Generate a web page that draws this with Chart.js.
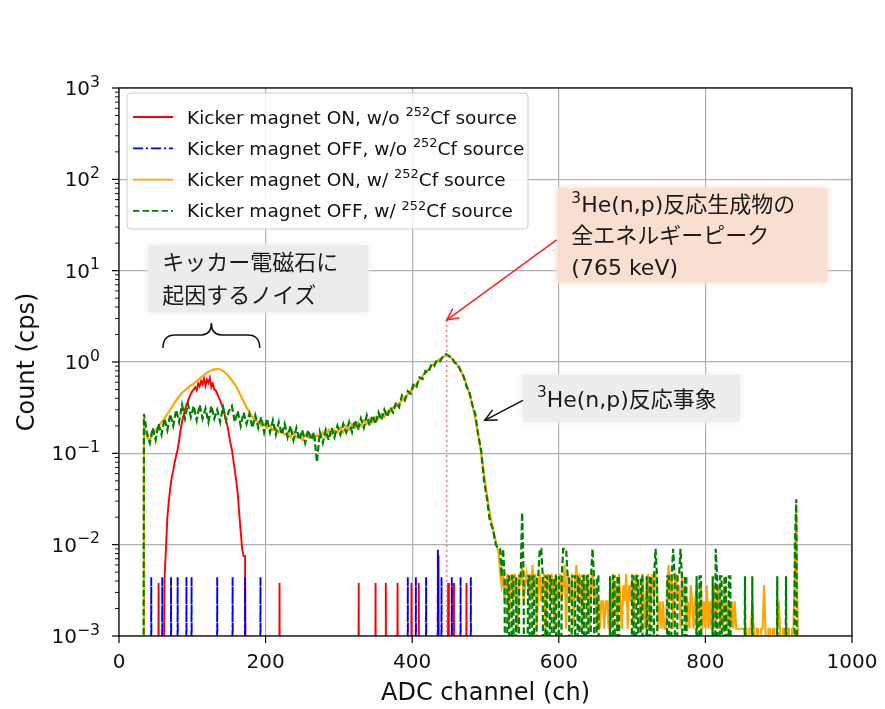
<!DOCTYPE html>
<html>
<head>
<meta charset="utf-8">
<title>ADC spectrum</title>
<script src="https://cdn.jsdelivr.net/npm/chart.js@4.4.1/dist/chart.umd.min.js"></script>
<style>
  html, body { margin: 0; padding: 0; background: #fff; }
  #wrap { width: 885px; height: 709px; position: relative; }
</style>
</head>
<body>
<div id="wrap"><canvas id="spectrum"></canvas></div>
<script>
// ---- spectra (cps), main region on a 4-channel grid ----
const threshold = 33;          // first channel above the ADC threshold
const spectrumStart = 34;
const spectrumStep = 4;

// kicker OFF, with 252Cf
const offWithCf = [
  0.27, 0.17, 0.13, 0.19, 0.14, 0.21, 0.16, 0.24, 0.18, 0.27,
  0.2, 0.3, 0.22, 0.34, 0.24, 0.35, 0.25, 0.33, 0.23, 0.34,
  0.24, 0.31, 0.22, 0.33, 0.24, 0.3, 0.22, 0.32, 0.23, 0.29,
  0.33, 0.22, 0.29, 0.2, 0.28, 0.21, 0.27, 0.19, 0.26, 0.19,
  0.25, 0.17, 0.24, 0.17, 0.23, 0.16, 0.22, 0.16, 0.21, 0.15,
  0.2, 0.14, 0.19, 0.14, 0.18, 0.13, 0.18, 0.14, 0.17, 0.08,
  0.17, 0.13, 0.18, 0.14, 0.19, 0.15, 0.2, 0.16, 0.21, 0.17,
  0.22, 0.17, 0.23, 0.18, 0.24, 0.19, 0.26, 0.2, 0.26, 0.21,
  0.28, 0.23, 0.3, 0.25, 0.32, 0.28, 0.36, 0.32, 0.43, 0.38,
  0.48, 0.45, 0.58, 0.54, 0.68, 0.65, 0.8, 0.76, 0.93, 0.9,
  1.06, 1.02, 1.15, 1.22, 1.16, 1.12, 0.98, 0.95, 0.8, 0.7,
  0.54, 0.47, 0.34, 0.27, 0.16, 0.11, 0.05, 0.032, 0.018, 0.015,
  0.01, 0.009
];

// kicker ON, with 252Cf
const onWithCf = [
  0.2, 0.15, 0.14, 0.16, 0.18, 0.2, 0.22, 0.24, 0.27, 0.3,
  0.34, 0.38, 0.42, 0.46, 0.49, 0.52, 0.55, 0.58, 0.62, 0.66,
  0.7, 0.74, 0.78, 0.81, 0.83, 0.84, 0.83, 0.8, 0.75, 0.69,
  0.63, 0.57, 0.5, 0.43, 0.37, 0.32, 0.28, 0.25, 0.23, 0.22,
  0.2, 0.21, 0.19, 0.2, 0.18, 0.19, 0.17, 0.18, 0.16, 0.17,
  0.15, 0.17, 0.15, 0.16, 0.14, 0.16, 0.15, 0.16, 0.14, 0.16,
  0.15, 0.17, 0.15, 0.18, 0.16, 0.18, 0.17, 0.19, 0.17, 0.2,
  0.18, 0.21, 0.19, 0.22, 0.2, 0.23, 0.21, 0.24, 0.22, 0.25,
  0.24, 0.27, 0.25, 0.29, 0.28, 0.32, 0.33, 0.35, 0.38, 0.41,
  0.44, 0.48, 0.53, 0.58, 0.64, 0.7, 0.76, 0.83, 0.9, 0.96,
  1.03, 1.09, 1.14, 1.18, 1.17, 1.1, 1.01, 0.92, 0.82, 0.7,
  0.57, 0.45, 0.34, 0.24, 0.16, 0.1, 0.06, 0.035, 0.022, 0.015,
  0.011, 0.008
];

// kicker ON, no source: noise bump on a 2-channel grid
const noiseStart = 60;
const noiseStep = 2;
const onNoSource = [
  0, 0.004, 0.009, 0.02, 0.03, 0.042, 0.055, 0.065, 0.08, 0.095,
  0.11, 0.14, 0.18, 0.22, 0.26, 0.3, 0.34, 0.37, 0.41, 0.45,
  0.48, 0.5, 0.53, 0.49, 0.58, 0.54, 0.62, 0.57, 0.66, 0.55,
  0.64, 0.59, 0.67, 0.53, 0.58, 0.5, 0.49, 0.45, 0.41, 0.38,
  0.34, 0.31, 0.27, 0.23, 0.2, 0.16, 0.13, 0.11, 0.085, 0.065,
  0.05, 0.036, 0.022, 0.014, 0.009, 0.0075, 0.0075, 0
];

// ---- high-channel tail: counts per 2-channel bin ----
const tailStart = 520;
const tailStep = 2;
const offWithCfRate = 0.0045;   // cps per count
const onWithCfRate = 0.0012;

const offWithCfTail = [
  2,1,2,1,0,1,1,0,1,1,0,1,0,1,1,5,1, 0,0,
  1,1,0,1,1,0,1,1,2,2,1,0,1,1,0,1,1,0,1,1,0,
  1,0,1,2,2,2,1,1,0,1,1,1,0,1,1,0,1,1,0,1,1,0,1,2,1,0,1,1,0,
  0,0,0,0,0,0, 1,0,1,1,0,1,1, 0,0,0,0,0,0,0,0,
  1,1,0,1,1,0,1,1, 0,0, 1,0,1,1,0,1,2,1, 0,0,0,0,0,0,
  1,1,0,1,2,1,0,1,1,2,1,0,1,1, 0,0,0,0,0,0, 1,0,1,1, 0,0,0,0,0,0,0,
  1,0,2,1,0,1,1,0,1,1,0,1,1,0, 0,0,0,0,0,0,0,0, 1, 0,0,0,0, 1,
  0,0,0,0,0,0,0,0,0,0,0,0,0,0,0,0, 1, 0,0,0,0,0, 1, 0,0,0,0,0,
  2,7,0,0,0
];

const onWithCfTail = [
  4,3,4,2,3,4,1,3,4,2,4,3,1,4,3,5,2,3,4,
  3,4,2,5,3,4,1,3,4,2,3,4,1,3,4,2,4,3,1,4,2,
  3,4,2,3,5,1,4,3,2,4,1,3,5,2,4,3,1,4,2,3,4,1,3,4,2,3,1,2,1,
  2,2,1,2,2,1, 3,1,4,2,3,1,4, 2,1,3,2,4,1,3,2,
  4,1,3,4,2,3,1,4, 2,1, 3,4,1,3,4,2,4,3, 1,2,1,2,1,1,
  3,5,2,4,1,3,4,2,3,1,4,2,3,1, 2,1,3,2,1,2, 3,1,2,3, 1,2,1,3,1,2,1,
  2,3,1,2,3,1,2,1,3,2,1,2,1,2, 1,2,1,1,1,1,1,1, 1, 1,0,1,1, 2,
  1,0,1,1,0,1,1,3,1,0,1,1,0,1,1,0, 1, 2,1,0,1,1, 0, 1,1,0,1,1,
  4,20,1,0,0
];

// ---- isolated counts without the source ----
const onNoSourceRate = 0.0038;
const onNoSourceHits = [54, 219, 327, 350, 364, 380, 399, 409, 436, 449, 456, 474];
const onNoSourceHitCounts = [1, 1, 1, 1, 1, 1, 1, 1, 2, 1, 1, 1];

const offNoSourceRate = 0.0044;
const offNoSourceHits = [44, 59, 71, 80, 92, 99, 134, 155, 172, 193, 394, 405, 419, 435, 440, 454, 466, 480];
const offNoSourceHitCounts = [1, 1, 1, 1, 1, 1, 1, 1, 1, 1, 1, 1, 1, 2, 1, 1, 1, 1];

// empty channels sit far below the axis so the line drops off the bottom
const zeroFloor = 1e-6;

// ---- axes ----
const xTicks = [0, 200, 400, 600, 800, 1000];
const yDecades = [-3, -2, -1, 0, 1, 2, 3];

const seriesLabels = [
  ['Kicker magnet ON, w/o ', '252', 'Cf source'],
  ['Kicker magnet OFF, w/o ', '252', 'Cf source'],
  ['Kicker magnet ON, w/ ', '252', 'Cf source'],
  ['Kicker magnet OFF, w/ ', '252', 'Cf source']
];
const seriesColors = ['#ff0000', '#0000ff', '#ffa500', '#008000'];
const seriesDash = [[], [10, 3, 2, 3], [], [6.5, 3]];

// annotation anchors (channel, cps)
const peakChannel = 447;
const peakArrowTip = 2.88;
const peakArrowFrom = [597, 21.7];
const eventArrowTip = [499, 0.23];
const eventArrowFrom = [551, 0.38];
const brace = { from: 60, to: 192, low: 1.42, mid: 1.98, top: 2.67 };
const noiseBox = { at: [40, 19], w: 220, h: 67, color: '#ececec',
  lines: [[['キッカー電磁石に']], [['起因するノイズ']]] };
const peakBox = { at: [598, 80], w: 270, h: 94, color: '#f9dfcf',
  lines: [[['3', true], ['He(n,p)反応生成物の']], [['全エネルギーピーク']], [['(765 keV)']]] };
const eventBox = { at: [551, 0.72], w: 217, h: 47, color: '#ededed',
  lines: [[['3', true], ['He(n,p)反応事象']]] };

// ---- build point lists ----
const lift = v => (v > 0 ? v : zeroFloor);

function gridPoints(start, step, values) {
  return values.map((v, i) => ({ x: start + step * i, y: lift(v) }));
}

function countPoints(start, step, counts, rate) {
  const pts = counts.map((c, i) => ({ x: start + step * i, y: c * rate }));
  // runs of empty bins: keep only the edges so each burst drops to the axis
  return pts.map((p, i) => {
    const prev = pts[i - 1], next = pts[i + 1];
    if (p.y === 0 && (!prev || prev.y === 0) && (!next || next.y === 0)) {
      return { x: p.x, y: null };
    }
    return { x: p.x, y: lift(p.y) };
  });
}

function hitPoints(chs, counts, rate) {
  const pts = [];
  chs.forEach((c, i) => {
    pts.push({ x: c - 1, y: zeroFloor }, { x: c, y: counts[i] * rate },
      { x: c + 1, y: zeroFloor }, { x: c + 1, y: null });
  });
  return pts;
}

const redPts = [
  ...hitPoints(onNoSourceHits.slice(0, 1), onNoSourceHitCounts.slice(0, 1), onNoSourceRate),
  ...gridPoints(noiseStart, noiseStep, onNoSource),
  { x: 175, y: null },
  ...hitPoints(onNoSourceHits.slice(1), onNoSourceHitCounts.slice(1), onNoSourceRate)
];
const bluePts = hitPoints(offNoSourceHits, offNoSourceHitCounts, offNoSourceRate);
const orangePts = [
  { x: threshold, y: zeroFloor },
  ...gridPoints(spectrumStart, spectrumStep, onWithCf),
  ...countPoints(tailStart, tailStep, onWithCfTail, onWithCfRate)
];
const greenPts = [
  { x: threshold, y: zeroFloor },
  ...gridPoints(spectrumStart, spectrumStep, offWithCf),
  ...countPoints(tailStart, tailStep, offWithCfTail, offWithCfRate)
];

// ---- drawing helpers ----
const axisFont = '"DejaVu Sans", sans-serif';
const noteFont = '"DejaVu Sans", "Noto Sans CJK JP", sans-serif';

function richText(ctx, parts, x0, base, size, family, supScale = 0.7) {
  let cx = x0;
  for (const [t, sup] of parts) {
    ctx.font = (sup ? size * supScale : size) + 'px ' + family;
    ctx.fillText(t, cx, sup ? base - size * 0.42 : base);
    cx += ctx.measureText(t).width;
  }
  return cx - x0;
}

function richWidth(ctx, parts, size, family, supScale = 0.7) {
  let w = 0;
  for (const [t, sup] of parts) {
    ctx.font = (sup ? size * supScale : size) + 'px ' + family;
    w += ctx.measureText(t).width;
  }
  return w;
}

function seg(ctx, x0, y0, x1, y1) {
  ctx.beginPath();
  ctx.moveTo(x0, y0);
  ctx.lineTo(x1, y1);
  ctx.stroke();
}

function arrow(ctx, x0, y0, x1, y1, color) {
  ctx.strokeStyle = color;
  ctx.lineWidth = 1.5;
  seg(ctx, x0, y0, x1, y1);
  const ang = Math.atan2(y1 - y0, x1 - x0);
  const len = 13, spread = 0.45;
  ctx.beginPath();
  ctx.moveTo(x1 - len * Math.cos(ang - spread), y1 - len * Math.sin(ang - spread));
  ctx.lineTo(x1, y1);
  ctx.lineTo(x1 - len * Math.cos(ang + spread), y1 - len * Math.sin(ang + spread));
  ctx.stroke();
}

function noteBox(ctx, box, sx, sy) {
  const x0 = sx.getPixelForValue(box.at[0]);
  const y0 = sy.getPixelForValue(box.at[1]);
  ctx.save();
  ctx.fillStyle = box.color;
  ctx.shadowColor = box.color;
  ctx.shadowBlur = 8;
  ctx.fillRect(x0, y0, box.w, box.h);
  ctx.restore();
  ctx.fillStyle = '#1a1a1a';
  ctx.textAlign = 'left';
  ctx.textBaseline = 'alphabetic';
  const gap = box.h / box.lines.length;
  box.lines.forEach((parts, i) => {
    const mid = y0 + gap * (i + 0.5);
    richText(ctx, parts, x0 + 14, mid + 8, 22, noteFont);
  });
}

const decor = {
  id: 'decor',
  afterDatasetsDraw(chart) {
    const { ctx, chartArea: a, scales: { x, y } } = chart;
    ctx.save();

    // dotted marker under the full-energy peak
    const px = x.getPixelForValue(peakChannel);
    ctx.strokeStyle = '#f07878';
    ctx.lineWidth = 1.5;
    ctx.setLineDash([2, 3]);
    seg(ctx, px, y.getPixelForValue(peakArrowTip), px, a.bottom);
    ctx.setLineDash([]);

    // frame
    ctx.strokeStyle = '#000';
    ctx.lineWidth = 1.2;
    ctx.strokeRect(a.left, a.top, a.right - a.left, a.bottom - a.top);

    // x ticks and labels
    ctx.fillStyle = '#111';
    ctx.textAlign = 'center';
    ctx.textBaseline = 'alphabetic';
    ctx.font = '20px ' + axisFont;
    xTicks.forEach(v => {
      const tx = x.getPixelForValue(v);
      seg(ctx, tx, a.bottom, tx, a.bottom + 7);
      ctx.fillText(String(v), tx, a.bottom + 32);
    });

    // y ticks (major + minor) and 10^n labels
    ctx.textAlign = 'left';
    yDecades.forEach(e => {
      const base = Math.pow(10, e);
      const ty = y.getPixelForValue(base);
      ctx.lineWidth = 1.2;
      seg(ctx, a.left - 7, ty, a.left, ty);
      if (e < yDecades[yDecades.length - 1]) {
        ctx.lineWidth = 0.9;
        for (let m = 2; m <= 9; m++) {
          const my = y.getPixelForValue(m * base);
          seg(ctx, a.left - 4, my, a.left, my);
        }
      }
      const parts = [['10'], [e < 0 ? '\u2212' + (-e) : String(e), true]];
      const w = richWidth(ctx, parts, 20, axisFont, 0.78);
      richText(ctx, parts, a.left - 19 - w, ty + 7, 20, axisFont, 0.78);
    });

    // axis titles
    ctx.font = '24px ' + axisFont;
    ctx.textAlign = 'center';
    ctx.fillText('ADC channel (ch)', (a.left + a.right) / 2, a.bottom + 64);
    ctx.save();
    ctx.translate(34, (a.top + a.bottom) / 2);
    ctx.rotate(-Math.PI / 2);
    ctx.fillText('Count (cps)', 0, 0);
    ctx.restore();

    // note boxes
    noteBox(ctx, noiseBox, x, y);
    noteBox(ctx, peakBox, x, y);
    noteBox(ctx, eventBox, x, y);

    // arrows
    arrow(ctx, x.getPixelForValue(peakArrowFrom[0]), y.getPixelForValue(peakArrowFrom[1]),
      px, y.getPixelForValue(peakArrowTip), '#ff2020');
    arrow(ctx, x.getPixelForValue(eventArrowFrom[0]), y.getPixelForValue(eventArrowFrom[1]),
      x.getPixelForValue(eventArrowTip[0]), y.getPixelForValue(eventArrowTip[1]), '#111');

    // curly brace over the noise bump
    const b0 = x.getPixelForValue(brace.from), b1 = x.getPixelForValue(brace.to);
    const bc = (b0 + b1) / 2;
    const yl = y.getPixelForValue(brace.low), ym = y.getPixelForValue(brace.mid), yt = y.getPixelForValue(brace.top);
    ctx.strokeStyle = '#111';
    ctx.lineWidth = 1.5;
    ctx.beginPath();
    ctx.moveTo(b0, yl);
    ctx.quadraticCurveTo(b0, ym, b0 + 12, ym);
    ctx.lineTo(bc - 10, ym);
    ctx.quadraticCurveTo(bc, ym, bc, yt);
    ctx.quadraticCurveTo(bc, ym, bc + 10, ym);
    ctx.lineTo(b1 - 12, ym);
    ctx.quadraticCurveTo(b1, ym, b1, yl);
    ctx.stroke();

    // legend
    const lx = a.left + 8, ly = a.top + 5, lw = 401, lh = 136;
    ctx.fillStyle = 'rgba(255,255,255,0.85)';
    ctx.strokeStyle = '#cccccc';
    ctx.lineWidth = 1;
    ctx.beginPath();
    ctx.roundRect(lx, ly, lw, lh, 4);
    ctx.fill();
    ctx.stroke();
    ctx.textAlign = 'left';
    seriesLabels.forEach((lab, i) => {
      const ry = a.top + 29 + i * 31.3;
      ctx.strokeStyle = seriesColors[i];
      ctx.lineWidth = 1.8;
      ctx.setLineDash(seriesDash[i]);
      seg(ctx, a.left + 14, ry, a.left + 54, ry);
      ctx.setLineDash([]);
      ctx.fillStyle = '#111';
      richText(ctx, [[lab[0]], [lab[1], true], [lab[2]]], a.left + 68, ry + 6.5, 18.5, axisFont);
    });

    ctx.restore();
  }
};

const line = (pts, i, order, width) => ({
  data: pts,
  borderColor: seriesColors[i],
  borderDash: seriesDash[i],
  borderWidth: width,
  pointRadius: 0,
  tension: 0,
  spanGaps: false,
  order
});

new Chart(document.getElementById('spectrum'), {
  type: 'line',
  data: {
    datasets: [
      line(redPts, 0, 3, 1.9),
      line(bluePts, 1, 2, 1.9),
      line(orangePts, 2, 1, 2.1),
      line(greenPts, 3, 0, 2.2)
    ]
  },
  options: {
    responsive: true,
    maintainAspectRatio: false,
    animation: false,
    events: [],
    layout: { padding: { left: 119, right: 33, top: 88, bottom: 73 } },
    plugins: { legend: { display: false }, tooltip: { enabled: false } },
    scales: {
      x: {
        type: 'linear', min: 0, max: 1000,
        ticks: { display: false, stepSize: 200 },
        grid: { color: '#b0b0b0', lineWidth: 1.2, drawTicks: false },
        border: { display: false },
        afterFit: s => { s.height = 0; }
      },
      y: {
        type: 'logarithmic', min: 0.001, max: 1000,
        ticks: { display: false },
        grid: {
          color: c => {
            const v = c.tick ? c.tick.value : 0;
            const l = Math.log10(v);
            return Math.abs(l - Math.round(l)) < 1e-6 ? '#b0b0b0' : 'rgba(0,0,0,0)';
          },
          lineWidth: 1.2, drawTicks: false
        },
        border: { display: false },
        afterFit: s => { s.width = 0; }
      }
    }
  },
  plugins: [decor]
});
</script>
</body>
</html>
